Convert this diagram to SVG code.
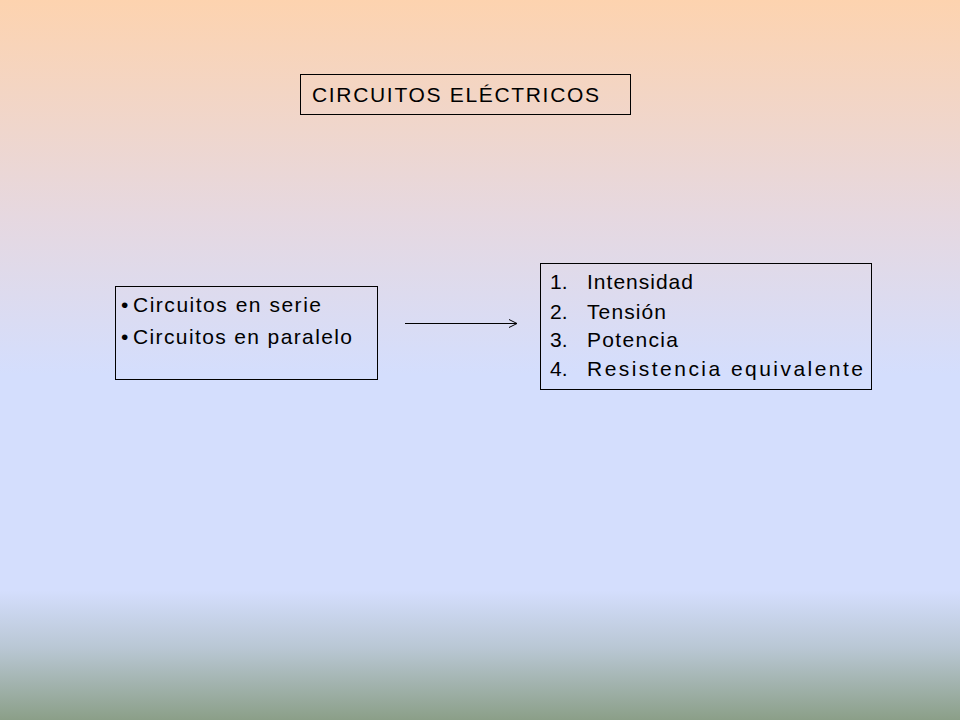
<svg xmlns="http://www.w3.org/2000/svg" width="960" height="720" viewBox="0 0 960 720">
<defs>
<linearGradient id="bg" x1="0" y1="0" x2="0" y2="1">
<stop offset="0" stop-color="#FDD3AF"/>
<stop offset="0.3" stop-color="#E6D8E0"/>
<stop offset="0.52" stop-color="#D4DEFD"/>
<stop offset="0.82" stop-color="#D4DEFD"/>
<stop offset="0.9" stop-color="#B9C7D4"/>
<stop offset="1" stop-color="#8B9F88"/>
</linearGradient>
<marker id="ah" markerWidth="10" markerHeight="10" refX="9" refY="5" orient="auto" markerUnits="userSpaceOnUse">
<path d="M1,1 L9,5 L1,9" fill="none" stroke="#000" stroke-width="1"/>
</marker>
<style>
.box{fill:none;stroke:#000;stroke-width:1}
text{font-family:"Liberation Sans",Arial,sans-serif;font-size:21px;fill:#000}
</style>
</defs>
<rect width="960" height="720" fill="url(#bg)"/>
<g id="title">
<rect class="box" x="300.5" y="74.5" width="330" height="40"/>
<text x="312" y="102" textLength="287" lengthAdjust="spacing">CIRCUITOS ELÉCTRICOS</text>
</g>
<g id="types">
<rect class="box" x="115.5" y="286.5" width="262" height="93"/>
<text x="121" y="312">•</text><text x="133" y="312" textLength="188" lengthAdjust="spacing">Circuitos en serie</text>
<text x="121" y="344">•</text><text x="133" y="344" textLength="219" lengthAdjust="spacing">Circuitos en paralelo</text>
</g>
<g id="list">
<rect class="box" x="540.5" y="263.5" width="331" height="126"/>
<text x="550" y="289">1.</text><text x="587" y="289" textLength="106" lengthAdjust="spacing">Intensidad</text>
<text x="550" y="319">2.</text><text x="587" y="319" textLength="79" lengthAdjust="spacing">Tensión</text>
<text x="550" y="347">3.</text><text x="587" y="347" textLength="91" lengthAdjust="spacing">Potencia</text>
<text x="550" y="376">4.</text><text x="587" y="376" textLength="276" lengthAdjust="spacing">Resistencia equivalente</text>
</g>
<g id="connectors">
<line x1="405" y1="323.5" x2="517" y2="323.5" stroke="#000" stroke-width="1" marker-end="url(#ah)"/>
</g>
</svg>
